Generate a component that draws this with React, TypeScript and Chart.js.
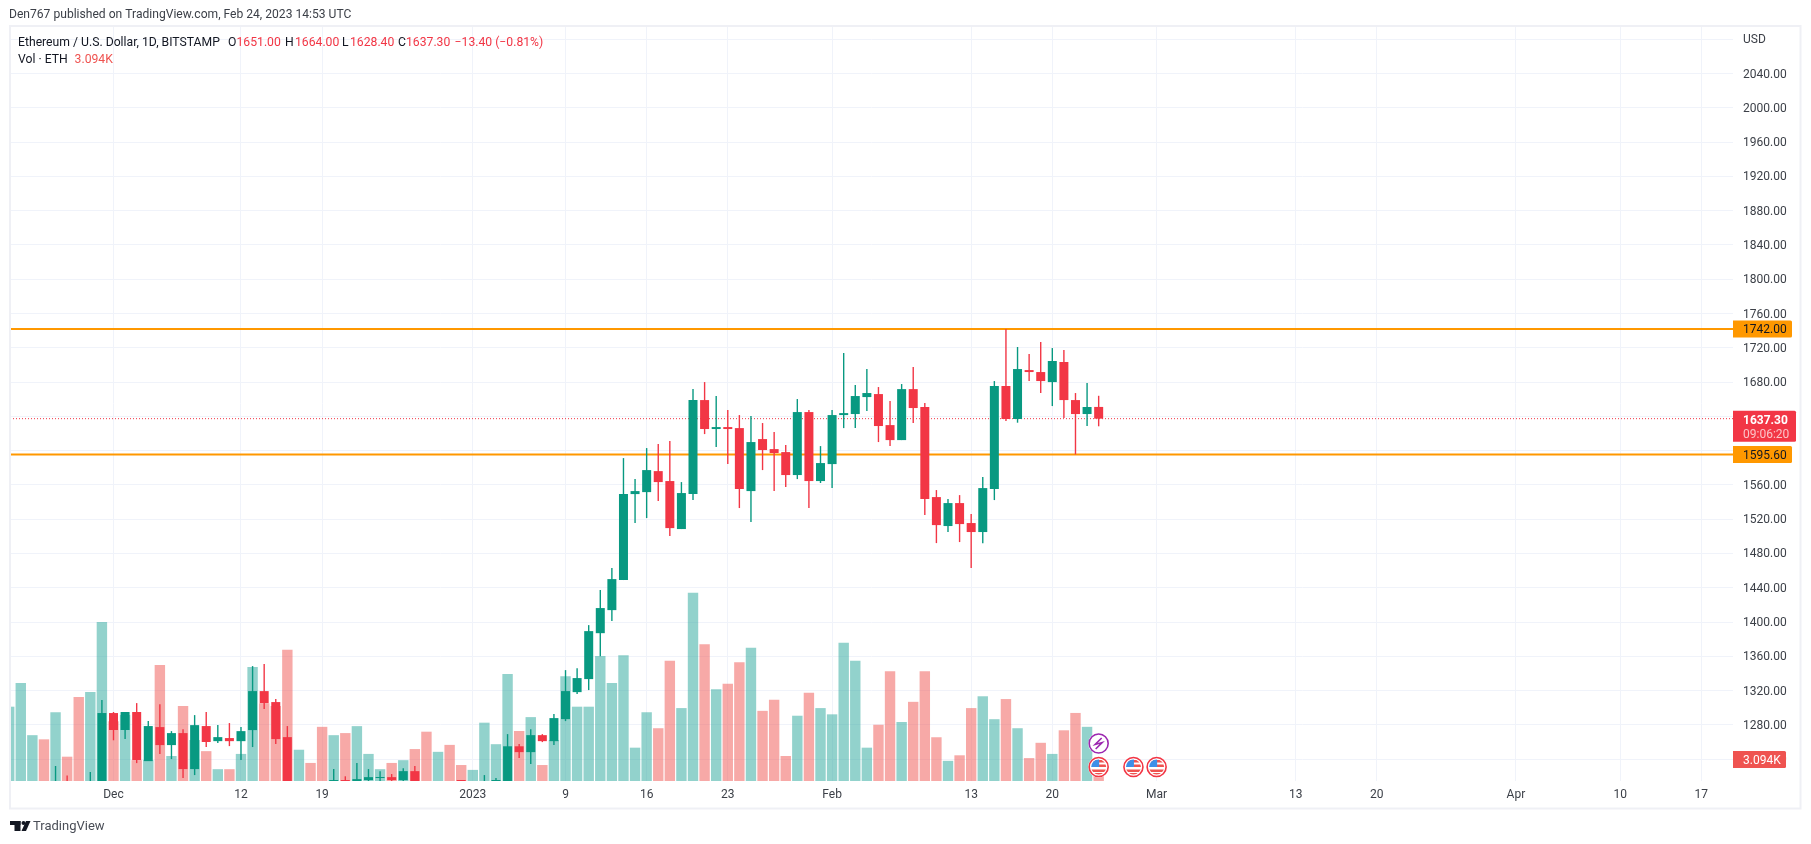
import React, { useEffect, useRef } from "react";
import { Chart, registerables } from "chart.js";

Chart.register(...registerables);

// Day 0 = 1 Dec 2022. One entry per daily session, 22 Nov 2022 to 24 Feb 2023.
const firstDay = -9;
const opens = [1108,1135,1183,1204,1194,1205,1195,1170,1210,1293.8,1274,1295,1237.7,1277.4,1256.4,1270.4,1228.4,1278.6,1261,1264.6,1261,1273.9,1319.4,1306.6,1265.7,1167,1186,1184,1205,1215.6,1205,1215.6,1218,1219,1215.5,1226,1210,1190,1200,1196,1195,1200,1212,1205,1255,1248.2,1268,1261,1286.7,1318.2,1333.4,1387,1413.9,1449,1549.3,1551.6,1576.1,1564.5,1508.5,1549.3,1659,1625.2,1627.5,1626.3,1552.8,1613.5,1601.8,1598.3,1571.5,1645,1564.5,1584.3,1641.5,1642.7,1662.5,1666,1629.8,1612.3,1671.8,1650.8,1545.8,1512,1538.8,1515.5,1505,1555.2,1675.4,1636.9,1694,1691.7,1680,1703.4,1659,1642.7,1651];
const closes = [1135,1183,1204,1194,1205,1195,1170,1210,1293.8,1274,1295,1238.9,1278.6,1256.4,1270.4,1228.4,1279.7,1260,1265.7,1261,1272.7,1319.4,1305.4,1263.4,1167,1186,1184,1170,1215.6,1205,1216.7,1219,1219,1215.6,1226,1210,1190,1200,1196,1195,1200,1212,1213,1255,1248.2,1268,1261,1287.9,1319.4,1334.6,1389.4,1416.3,1450.1,1549.3,1552.8,1577.3,1563.3,1509.6,1550.5,1659,1625.2,1627.5,1625.2,1555.2,1610,1600.7,1597.2,1571.5,1645,1564.5,1585.5,1641.5,1643.8,1663.7,1667.2,1628.7,1612.3,1671.8,1649.7,1543.5,1513.1,1538.8,1514.3,1505,1556.3,1675.4,1636.9,1695.2,1691.7,1681.2,1704.6,1659,1642.7,1650.9,1637.3];
const highs = [1137,1186,1210,1205,1232,1221,1210,1225,1309,1295,1295,1305.4,1284.4,1304.2,1272.7,1275,1291.4,1295,1279.7,1282.1,1277.4,1348.6,1350.9,1310.1,1278.6,1195,1198,1200,1228.4,1220,1235.4,1228.4,1226,1222.6,1229.5,1231.9,1212,1205,1205,1200,1202,1221.4,1218,1269.2,1257.6,1275,1269.2,1292.6,1343.9,1346.2,1396.4,1437.3,1463,1591.3,1566.8,1603,1607.7,1611.2,1563.3,1671.8,1680,1663.7,1647.3,1641.5,1640.3,1632.2,1621.7,1606.5,1660.2,1647.3,1605.3,1647.3,1713.9,1676.5,1695.2,1674.2,1657.8,1677.7,1697.5,1655.5,1554,1543.5,1548.1,1526,1569.2,1681.2,1742,1720.9,1712.7,1726.7,1719.7,1717.4,1667.2,1678.9,1664];
const lows = [1095,1127,1175,1175,1180,1185,1150,1160,1205,1262,1263.4,1235.4,1237.7,1245.9,1240.1,1217.9,1221.4,1254.1,1258.7,1255.2,1238.9,1254.1,1298.4,1257.6,1150,1160,1180,1165,1200,1200,1200,1205,1210,1210,1213,1205,1185,1180,1190,1192,1190,1195,1195,1200,1241.2,1234.2,1259.9,1256.4,1284.4,1315.9,1320.6,1360,1401.1,1449,1515.5,1521.3,1541.1,1500.3,1508.5,1542.3,1619.3,1604.2,1584.3,1533,1516.6,1577.3,1552.8,1557.5,1566.8,1533,1562.2,1556.3,1626.3,1626.3,1646.2,1610,1605.3,1612.3,1632.2,1524.8,1492.1,1505,1493.3,1463,1492,1542.3,1634.5,1632.6,1681.2,1667.2,1652,1638,1595.6,1628.7,1628.4];
const volumesK = [10.7,14.1,6.6,6.0,9.9,3.5,12.1,12.8,22.9,8.6,9.5,3.0,3.0,16.7,3.6,10.8,5.9,4.3,1.7,1.7,3.9,16.4,11.2,10.8,18.9,4.5,2.6,7.8,6.6,6.9,7.9,3.9,1.7,2.6,3.0,4.6,7.1,4.2,5.2,2.3,1.6,8.4,5.3,15.4,7.2,9.2,2.3,5.9,15.1,10.7,10.7,18.0,14.1,18.1,4.8,9.9,7.6,17.3,10.5,27.1,19.7,13.2,14.0,17.1,19.2,10.1,11.7,3.6,9.4,12.7,10.5,9.6,19.9,17.3,4.8,8.1,15.8,8.5,11.4,15.8,6.3,2.9,3.7,10.5,12.2,8.9,11.8,7.6,3.3,5.5,3.9,7.3,9.8,7.8,3.094];

const tickDays = [0, 11, 18, 31, 39, 46, 53, 62, 74, 81, 90, 102, 109, 121, 130, 137];
const tickLabels = ["Dec","12","19","2023","9","16","23","Feb","13","20","Mar","13","20","Apr","10","17"];
const supportResistance = [1742, 1595.6];
const lastPrice = 1637.3;
const lastVolumeLabel = "3.094K";

const UP = "#089981";
const DOWN = "#f23645";
const UP_VOL = "rgba(38,166,154,0.5)";
const DOWN_VOL = "rgba(239,83,80,0.5)";
const ORANGE = "#ff9800";
const GRID = "#f0f3fa";
const TEXT = "#131722";
const FONT = "Roboto, sans-serif";

const X_MIN = -8.93;
const X_MAX = 139.73;

function box(ctx: CanvasRenderingContext2D, x: number, y: number, w: number, h: number, c: string) {
  ctx.fillStyle = c;
  ctx.beginPath();
  ctx.roundRect(x, y, w, h, [0, 1.5, 1.5, 0]);
  ctx.fill();
}

function flag(ctx: CanvasRenderingContext2D, cx: number, cy: number) {
  ctx.save();
  ctx.beginPath();
  ctx.arc(cx, cy, 10.5, 0, Math.PI * 2);
  ctx.fillStyle = "#fff";
  ctx.fill();
  ctx.beginPath();
  ctx.arc(cx, cy, 7.5, 0, Math.PI * 2);
  ctx.clip();
  ctx.fillStyle = "#fff";
  ctx.fillRect(cx - 8, cy - 8, 16, 16);
  ctx.fillStyle = "#ef5350";
  ctx.fillRect(cx - 8, cy - 7, 16, 2.5);
  ctx.fillRect(cx, cy - 2.5, 8, 2.5);
  ctx.fillRect(cx - 8, cy + 2.5, 16, 2.5);
  ctx.fillRect(cx - 8, cy + 6, 16, 2.5);
  ctx.fillStyle = "#3d8fe8";
  ctx.fillRect(cx - 8, cy - 8, 8.5, 8);
  ctx.restore();
  ctx.beginPath();
  ctx.arc(cx, cy, 9.5, 0, Math.PI * 2);
  ctx.strokeStyle = "#f23645";
  ctx.lineWidth = 1.6;
  ctx.stroke();
}

const overlay = {
  id: "overlay",
  afterDraw(chart: any) {
    const ctx: CanvasRenderingContext2D = chart.ctx;
    ctx.save();
    ctx.textBaseline = "middle";
    ctx.textAlign = "left";

    // outer frame
    ctx.strokeStyle = "#eff0f5";
    ctx.lineWidth = 2;
    ctx.strokeRect(10, 26, 1790.5, 782.5);

    // price tags
    const yS = chart.scales.y;
    ctx.font = `12px ${FONT}`;
    supportResistance.forEach((p) => {
      const py = yS.getPixelForValue(p);
      box(ctx, 1733, py - 8.5, 59, 17, ORANGE);
      ctx.fillStyle = TEXT;
      ctx.fillText(p.toFixed(2), 1743, py + 1.5);
    });
    const ly = yS.getPixelForValue(lastPrice);
    box(ctx, 1733, ly - 8, 63, 31, DOWN);
    ctx.font = `bold 12px ${FONT}`;
    ctx.fillStyle = "#fff";
    ctx.fillText(lastPrice.toFixed(2), 1743, ly + 2.5);
    ctx.font = `12px ${FONT}`;
    ctx.fillStyle = "rgba(255,255,255,0.7)";
    ctx.fillText("09:06:20", 1743, ly + 16);
    box(ctx, 1733, 751, 53, 17, "#ef5350");
    ctx.fillStyle = "#fff";
    ctx.fillText(lastVolumeLabel, 1743, 760.5);

    // event badges
    const xS = chart.scales.x;
    const lastX = xS.getPixelForValue(firstDay + opens.length - 1);
    ctx.beginPath();
    ctx.arc(lastX, 743.5, 10.5, 0, Math.PI * 2);
    ctx.fillStyle = "#fff";
    ctx.fill();
    ctx.beginPath();
    ctx.arc(lastX, 743.5, 9.5, 0, Math.PI * 2);
    ctx.strokeStyle = "#9c27b0";
    ctx.lineWidth = 1.6;
    ctx.stroke();
    ctx.beginPath();
    ctx.moveTo(lastX + 3, 738);
    ctx.lineTo(lastX - 3.5, 744.5);
    ctx.lineTo(lastX + 3.5, 742.5);
    ctx.lineTo(lastX - 3, 749);
    ctx.stroke();
    flag(ctx, lastX, 767);
    flag(ctx, xS.getPixelForValue(88), 767);
    flag(ctx, xS.getPixelForValue(90), 767);

    // header and legend
    ctx.font = `12.1px ${FONT}`;
    ctx.fillStyle = "#3c4048";
    ctx.fillText("Den767 published on TradingView.com, Feb 24, 2023 14:53 UTC", 9, 15);
    ctx.font = `12.2px ${FONT}`;
    const seg = (t: string, x: number, y: number, c: string) => {
      ctx.fillStyle = c;
      ctx.fillText(t, x, y);
    };
    seg("Ethereum / U.S. Dollar, 1D, BITSTAMP", 18, 43, TEXT);
    seg("O", 228, 43, TEXT); seg("1651.00", 236.5, 43, DOWN);
    seg("H", 285, 43, TEXT); seg("1664.00", 295, 43, DOWN);
    seg("L", 342, 43, TEXT); seg("1628.40", 350, 43, DOWN);
    seg("C", 398, 43, TEXT); seg("1637.30", 406, 43, DOWN);
    seg("\u221213.40 (\u22120.81%)", 454.6, 43, DOWN);
    seg("Vol \u00b7 ETH", 18, 60, TEXT);
    seg(lastVolumeLabel, 74.6, 60, "#ef5350");

    // footer logo
    ctx.fillStyle = "#131722";
    ctx.fillRect(10, 821, 10.5, 4);
    ctx.fillRect(14.5, 821, 6, 10);
    ctx.beginPath();
    ctx.arc(23.5, 823, 2, 0, Math.PI * 2);
    ctx.fill();
    ctx.beginPath();
    ctx.moveTo(26, 821); ctx.lineTo(30.5, 821); ctx.lineTo(26, 831); ctx.lineTo(21.5, 831);
    ctx.closePath();
    ctx.fill();
    ctx.font = `13px ${FONT}`;
    ctx.fillStyle = "#4a4e57";
    ctx.fillText("TradingView", 33, 826.5);
    ctx.restore();
  },
};

export default function App() {
  const ref = useRef<HTMLCanvasElement | null>(null);
  useEffect(() => {
    const days = opens.map((_, i) => firstDay + i);
    const isUp = opens.map((o, i) => closes[i] >= o);
    const hline = (v: number) => [{ x: X_MIN, y: v }, { x: X_MAX, y: v }];
    const chart = new Chart(ref.current!, {
      type: "bar",
      plugins: [overlay],
      data: {
        datasets: [
          {
            label: "Body", yAxisID: "y", order: 1, barThickness: 9, minBarLength: 1, inflateAmount: 0,
            data: days.map((d, i) => ({ x: d, y: [opens[i], closes[i]] })),
            backgroundColor: isUp.map((u) => (u ? UP : DOWN)),
          },
          {
            label: "Wick", yAxisID: "y", order: 2, barThickness: 1.4, inflateAmount: 0,
            data: days.map((d, i) => ({ x: d, y: [lows[i], highs[i]] })),
            backgroundColor: isUp.map((u) => (u ? UP : DOWN)),
          },
          {
            type: "line", label: "Resistance", yAxisID: "y", order: 3, borderColor: ORANGE, borderWidth: 2,
            pointRadius: 0, data: hline(supportResistance[0]),
          },
          {
            type: "line", label: "Support", yAxisID: "y", order: 3, borderColor: ORANGE, borderWidth: 2,
            pointRadius: 0, data: hline(supportResistance[1]),
          },
          {
            type: "line", label: "Last", yAxisID: "y", order: 4, borderColor: DOWN, borderWidth: 1,
            borderDash: [1, 2], pointRadius: 0, data: hline(lastPrice),
          },
          {
            label: "Volume", yAxisID: "vol", order: 5, barThickness: 10.4, inflateAmount: 0,
            data: days.map((d, i) => ({ x: d, y: volumesK[i] })),
            backgroundColor: isUp.map((u) => (u ? UP_VOL : DOWN_VOL)),
          },
        ] as any,
      },
      options: {
        animation: false,
        responsive: false,
        maintainAspectRatio: false,
        layout: { padding: { left: 10, top: 26, right: 11, bottom: 35 } },
        datasets: { bar: { grouped: false } } as any,
        plugins: { legend: { display: false }, tooltip: { enabled: false } },
        scales: {
          x: {
            type: "linear",
            offset: false,
            min: X_MIN,
            max: X_MAX,
            afterBuildTicks: (s: any) => { s.ticks = tickDays.map((value) => ({ value })); },
            afterFit: (s: any) => { s.height = 28; },
            border: { display: false },
            grid: { color: GRID, lineWidth: 1, drawTicks: false, offset: false },
            ticks: {
              autoSkip: false, maxRotation: 0, padding: 7, color: "#3c4048",
              font: { family: FONT, size: 12 },
              callback: (v: any) => tickLabels[tickDays.indexOf(v)] ?? "",
            },
          },
          y: {
            position: "right",
            min: 1214.5,
            max: 2095.5,
            afterBuildTicks: (s: any) => {
              const out = [];
              for (let v = 1240; v <= 2080; v += 40) out.push({ value: v });
              s.ticks = out;
            },
            afterFit: (s: any) => { s.width = 67; },
            border: { display: false },
            grid: { color: GRID, lineWidth: 1, drawTicks: false },
            ticks: {
              autoSkip: false, padding: 10, color: "#3c4048", labelOffset: 1,
              font: { family: FONT, size: 12 },
              callback: (v: any) => (v === 2080 ? "USD" : Number(v).toFixed(2)),
            },
          },
          vol: { display: false, position: "left", min: 0, max: 108.72, grid: { display: false } },
        },
      } as any,
    });
    return () => chart.destroy();
  }, []);
  return (
    <div style={{ position: "absolute", left: 0, top: 0, width: 1811, height: 844, background: "#fff" }}>
      <canvas ref={ref} width={1811} height={844} style={{ display: "block" }} />
    </div>
  );
}
